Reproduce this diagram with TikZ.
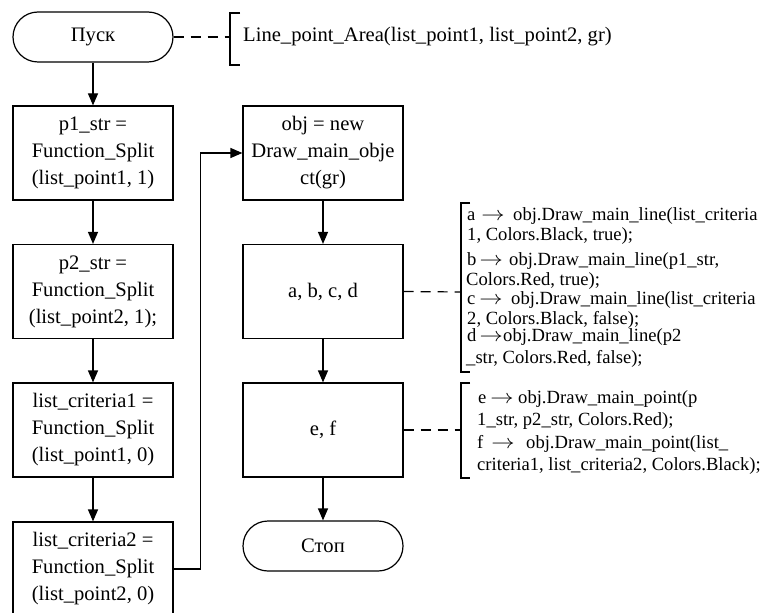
\documentclass[tikz,border=0pt]{standalone}
\usepackage{fontspec}
\setmainfont{Liberation Serif}
\usetikzlibrary{arrows.meta}
\newcommand\calpre[3]{\makebox[#1][l]{#2\hspace{#3}\scalebox{1.35}[1.15]{$\rightarrow$}}}
\begin{document}
\begin{tikzpicture}[x=1pt,y=-1pt,
  every node/.style={font=\fontsize{20.6}{27}\selectfont},
  proc/.style={draw, line width=1.2pt, minimum width=160pt, minimum height=94pt, align=center, inner sep=2pt},
  term/.style={draw, line width=1.2pt, minimum width=160pt, minimum height=50pt, rounded corners=25pt},
  flow/.style={line width=1.2pt, -{Triangle[length=12pt,width=10pt]}},
  link/.style={line width=1.2pt, dash pattern=on 10pt off 7pt},
  brk/.style={line width=1.2pt},
  note/.style={anchor=base west, inner sep=0pt, font=\fontsize{18.6}{22}\selectfont}]
\useasboundingbox (0,0) rectangle (767,612);

% main column
\node[term] (start) at (93,37) {Пуск};
\node[proc] (p1) at (93,153) {p1\_str =\\Function\_Split\\(list\_point1, 1)};
\node[proc] (p2) at (93,291.5) {p2\_str =\\Function\_Split\\(list\_point2, 1);};
\node[proc] (p3) at (93,430) {list\_criteria1 =\\Function\_Split\\(list\_point1, 0)};
\node[proc] (p4) at (93,569) {list\_criteria2 =\\Function\_Split\\(list\_point2, 0)};
\node[proc] (q1) at (323,153) {obj = new\\Draw\_main\_obje\\ct(gr)};
\node[proc] (q2) at (323,291.5) {a, b, c, d};
\node[proc] (q3) at (323,430) {e, f};
\node[term] (stop) at (323,546) {Стоп};

\draw[flow] (start) -- (p1);
\draw[flow] (p1) -- (p2);
\draw[flow] (p2) -- (p3);
\draw[flow] (p3) -- (p4);
\draw[flow] (p4.east) -- ++(27,0) |- (q1.west);
\draw[flow] (q1) -- (q2);
\draw[flow] (q2) -- (q3);
\draw[flow] (q3) -- (stop);

% top annotation
\coordinate (a0) at (230,37);
\draw[link] (start.east) -- (a0);
\draw[brk] (240,13) -- (230,13) -- (230,65) -- (240,65);
\node[anchor=west, inner sep=0pt] (t0) at (243,37) {Line\_point\_Area(list\_point1, list\_point2, gr)};

% abcd annotation
\coordinate (a1) at (461,292);
\draw[link] (q2.east) -- (a1);
\draw[brk] (470,203) -- (461,203) -- (461,372) -- (470,372);
\node[note] (n1) at (467,220) {\calpre{46pt}{a}{6pt}obj.Draw\_main\_line(list\_criteria};
\node[note] (n2) at (467,240) {1, Colors.Black, true);};
\node[note] (n3) at (467,265) {\calpre{42pt}{b}{3pt}obj.Draw\_main\_line(p1\_str,};
\node[note] (n4) at (466,285) {Colors.Red, true);};
\node[note] (n5) at (467,304) {\calpre{44pt}{c}{4pt}obj.Draw\_main\_line(list\_criteria};
\node[note] (n6) at (467,324) {2, Colors.Black, false);};
\node[note] (n7) at (467,341) {\calpre{36pt}{d}{3pt}obj.Draw\_main\_line(p2};
\node[note] (n8) at (466,363) {\_str, Colors.Red, false);};

% ef annotation
\coordinate (a2) at (461,430);
\draw[link] (q3.east) -- (a2);
\draw[brk] (470,383) -- (461,383) -- (461,478) -- (470,478);
\node[note] (m1) at (478,403) {\calpre{40pt}{e}{4pt}obj.Draw\_main\_point(p};
\node[note] (m2) at (477,425) {1\_str, p2\_str, Colors.Red);};
\node[note] (m3) at (477,448) {\calpre{49pt}{f}{8pt}obj.Draw\_main\_point(list\_};
\node[note] (m4) at (477,470) {criteria1, list\_criteria2, Colors.Black);};
\end{tikzpicture}
\end{document}
